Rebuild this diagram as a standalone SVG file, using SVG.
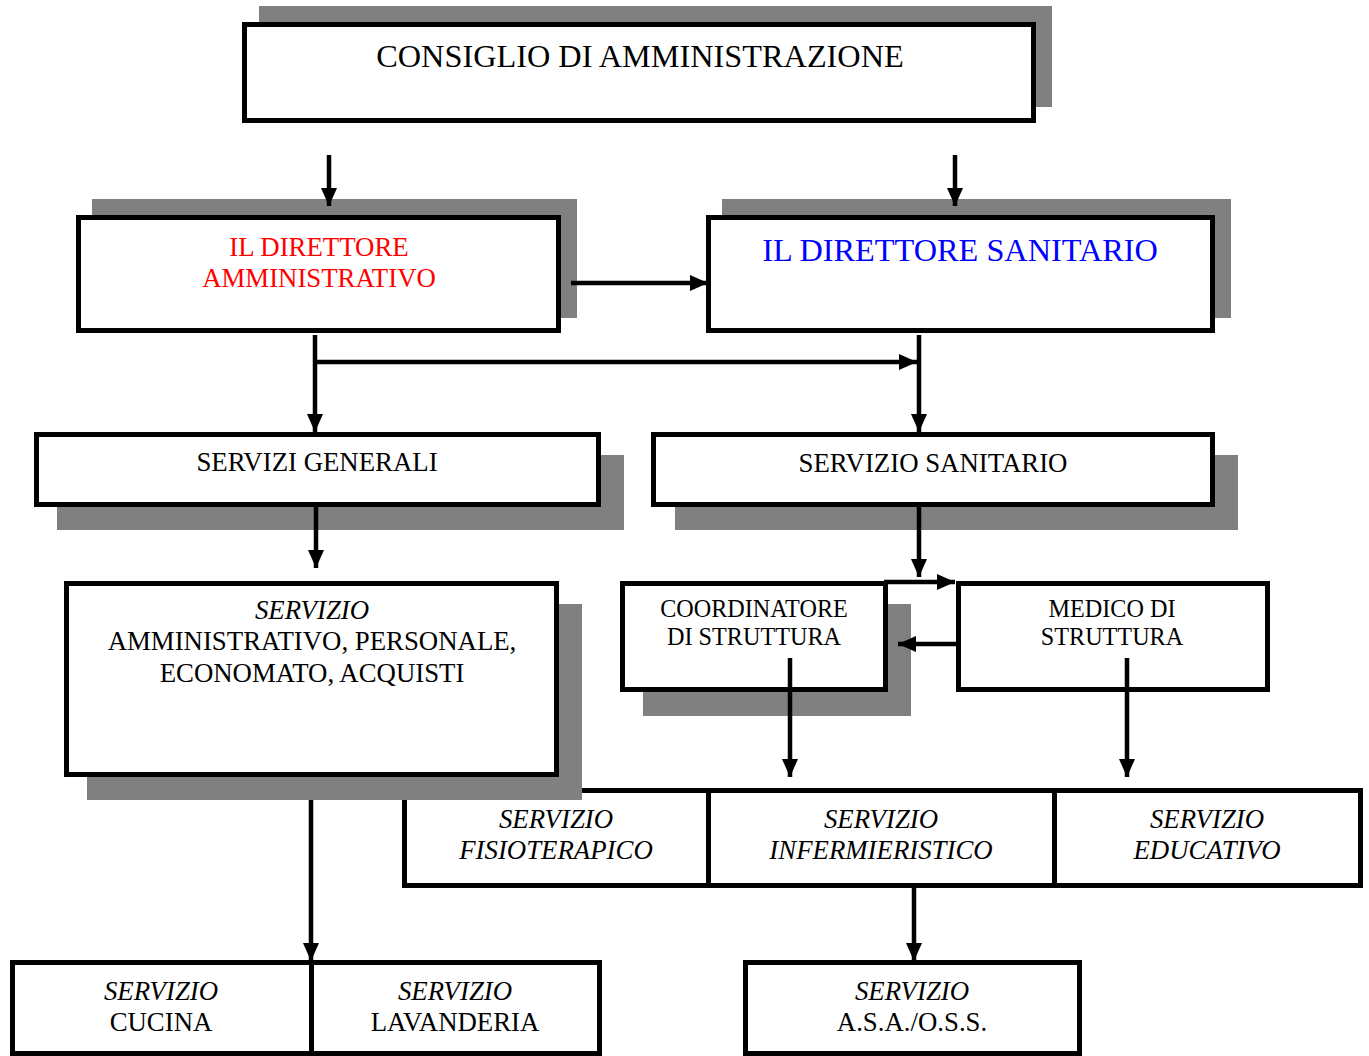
<svg xmlns="http://www.w3.org/2000/svg" width="1369" height="1056" viewBox="0 0 1369 1056">
<style>
.box{fill:#fff;stroke:#000;stroke-width:5}
.sh{fill:#808080}
.t{font-family:"Liberation Serif","Times New Roman",serif;font-size:26.8px;fill:#000;text-anchor:middle}
.i{font-style:italic}
.big{font-size:32.3px}
.sm{font-size:24.2px}
.c{fill:none;stroke:#000;stroke-width:4.5}
</style>
<defs>
<marker id="ah" markerUnits="userSpaceOnUse" markerWidth="18" markerHeight="16" refX="18" refY="8" orient="auto">
<path d="M0,0 L18,8 L0,16 z" fill="#000"/>
</marker>
</defs>
<rect width="1369" height="1056" fill="#fff"/>

<g id="consiglio">
<rect class="sh" x="259" y="6" width="793" height="101"/>
<rect class="box" x="244.5" y="24.5" width="789" height="96"/>
<text class="t big" x="640" y="67">CONSIGLIO DI AMMINISTRAZIONE</text>
</g>

<g id="dir-amm">
<rect class="sh" x="92" y="199" width="485" height="119"/>
<rect class="box" x="78.5" y="217.5" width="480" height="113"/>
<text class="t" x="319" y="256" style="fill:#ff0000">IL DIRETTORE</text>
<text class="t" x="319" y="287" style="fill:#ff0000">AMMINISTRATIVO</text>
</g>

<g id="dir-san">
<rect class="sh" x="722" y="199" width="509" height="119"/>
<rect class="box" x="708.5" y="217.5" width="504" height="113"/>
<text class="t big" x="960" y="261" style="fill:#0000ff">IL DIRETTORE SANITARIO</text>
</g>

<g id="serv-gen">
<rect class="sh" x="57" y="455" width="567" height="75"/>
<rect class="box" x="36.5" y="434.5" width="562" height="70"/>
<text class="t" x="317" y="471">SERVIZI GENERALI</text>
</g>

<g id="serv-san">
<rect class="sh" x="675" y="455" width="563" height="75"/>
<rect class="box" x="653.5" y="434.5" width="559" height="70"/>
<text class="t" x="933" y="472">SERVIZIO SANITARIO</text>
</g>

<g id="fisio">
<rect class="box" x="404.5" y="790.5" width="304" height="95"/>
<text class="t i" x="556" y="828">SERVIZIO</text>
<text class="t i" x="556" y="859">FISIOTERAPICO</text>
</g>

<g id="inferm">
<rect class="box" x="708.5" y="790.5" width="346" height="95"/>
<text class="t i" x="881" y="828">SERVIZIO</text>
<text class="t i" x="881" y="859">INFERMIERISTICO</text>
</g>

<g id="educ">
<rect class="box" x="1054.5" y="790.5" width="306" height="95"/>
<text class="t i" x="1207" y="828">SERVIZIO</text>
<text class="t i" x="1207" y="859">EDUCATIVO</text>
</g>

<g id="serv-amm">
<rect class="sh" x="87" y="604" width="495" height="196"/>
<rect class="box" x="66.5" y="583.5" width="490" height="191"/>
<text class="t i" x="312" y="619">SERVIZIO</text>
<text class="t" x="312" y="650">AMMINISTRATIVO, PERSONALE,</text>
<text class="t" x="312" y="682">ECONOMATO, ACQUISTI</text>
</g>

<g id="coord">
<rect class="sh" x="643" y="604" width="268" height="112"/>
<rect class="box" x="622.5" y="583.5" width="263" height="106"/>
<text class="t sm" x="754" y="617">COORDINATORE</text>
<text class="t sm" x="754" y="645">DI STRUTTURA</text>
</g>

<g id="medico">
<rect class="box" x="958.5" y="583.5" width="309" height="106"/>
<text class="t sm" x="1112" y="617">MEDICO DI</text>
<text class="t sm" x="1112" y="645">STRUTTURA</text>
</g>

<g id="cucina">
<rect class="box" x="12.5" y="962.5" width="299" height="91"/>
<text class="t i" x="161" y="1000">SERVIZIO</text>
<text class="t" x="161" y="1031">CUCINA</text>
</g>

<g id="lavanderia">
<rect class="box" x="311.5" y="962.5" width="288" height="91"/>
<text class="t i" x="455" y="1000">SERVIZIO</text>
<text class="t" x="455" y="1031">LAVANDERIA</text>
</g>

<g id="asa">
<rect class="box" x="745.5" y="962.5" width="334" height="91"/>
<text class="t i" x="912" y="1000">SERVIZIO</text>
<text class="t" x="912" y="1031">A.S.A./O.S.S.</text>
</g>

<g id="connectors">
<path class="c" d="M329,155 V206" marker-end="url(#ah)"/>
<path class="c" d="M955,155 V206" marker-end="url(#ah)"/>
<path class="c" d="M571,283 H708" marker-end="url(#ah)"/>
<path class="c" d="M315,335 V432" marker-end="url(#ah)"/>
<path class="c" d="M315,362 H917" marker-end="url(#ah)"/>
<path class="c" d="M919,335 V432" marker-end="url(#ah)"/>
<path class="c" d="M316,507 V568" marker-end="url(#ah)"/>
<path class="c" d="M919,507 V577" marker-end="url(#ah)"/>
<path class="c" d="M884,582 H955" marker-end="url(#ah)"/>
<path class="c" d="M958,644 H898" marker-end="url(#ah)"/>
<path class="c" d="M790,658 V777" marker-end="url(#ah)"/>
<path class="c" d="M1127,658 V777" marker-end="url(#ah)"/>
<path class="c" d="M311,800 V961" marker-end="url(#ah)"/>
<path class="c" d="M914,886 V961" marker-end="url(#ah)"/>
</g>
</svg>
